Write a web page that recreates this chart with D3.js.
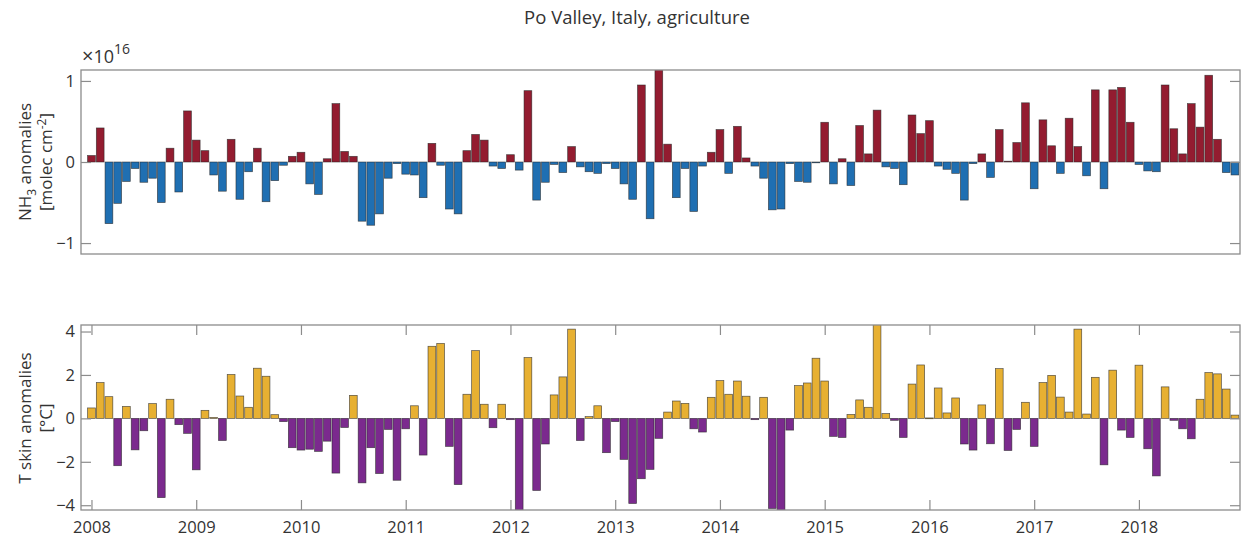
<!DOCTYPE html>
<html>
<head>
<meta charset="utf-8">
<script src="https://cdn.jsdelivr.net/npm/d3@7"></script>
<style>
  html, body { margin: 0; padding: 0; background: #fff; }
  svg { display: block; }
  text { font-family: "Open Sans", "Noto Sans", sans-serif; }
</style>
</head>
<body>
<svg id="chart" width="1242" height="537"></svg>
<script>
// ---- Data (monthly anomalies, Jan 2008 - Dec 2018) ----
const startYear = 2008;
const yearTicks = [2008, 2009, 2010, 2011, 2012, 2013, 2014, 2015, 2016, 2017, 2018];

// NH3 column anomalies, units of 1e16 molec cm^-2
const nh3 = [
  0.08, 0.42, -0.76, -0.51, -0.24, -0.08, -0.25, -0.20, -0.50, 0.17, -0.37, 0.63,
  0.27, 0.14, -0.16, -0.36, 0.28, -0.46, -0.12, 0.17, -0.49, -0.23, -0.04, 0.07,
  0.12, -0.27, -0.40, 0.04, 0.72, 0.13, 0.07, -0.73, -0.78, -0.64, -0.20, -0.02,
  -0.15, -0.16, -0.44, 0.23, -0.04, -0.58, -0.64, 0.14, 0.34, 0.27, -0.05, -0.08,
  0.09, -0.10, 0.88, -0.47, -0.25, -0.03, -0.13, 0.19, -0.06, -0.12, -0.14, -0.02,
  -0.08, -0.27, -0.46, 0.95, -0.70, 1.20, 0.22, -0.44, -0.08, -0.61, -0.05, 0.12,
  0.40, -0.14, 0.44, 0.05, -0.05, -0.20, -0.59, -0.58, -0.02, -0.24, -0.25, -0.005,
  0.49, -0.27, 0.04, -0.29, 0.45, 0.10, 0.64, -0.06, -0.08, -0.28, 0.58, 0.35,
  0.51, -0.05, -0.09, -0.14, -0.47, -0.02, 0.10, -0.19, 0.40, 0.01, 0.24, 0.73,
  -0.33, 0.52, 0.20, -0.14, 0.54, 0.19, -0.17, 0.89, -0.33, 0.89, 0.92, 0.49,
  -0.03, -0.11, -0.12, 0.95, 0.41, 0.10, 0.72, 0.43, 1.07, 0.28, -0.13, -0.16
];

// Skin temperature anomalies, degrees C
const tskin = [
  0.48, 1.65, 1.00, -2.18, 0.55, -1.45, -0.57, 0.68, -3.65, 0.88, -0.29, -0.69,
  -2.37, 0.37, 0.04, -1.02, 2.02, 1.03, 0.51, 2.31, 1.94, 0.17, -0.15, -1.35,
  -1.46, -1.42, -1.52, -1.05, -2.52, -0.42, 1.06, -2.97, -1.35, -2.54, -0.51, -2.85,
  -0.48, 0.58, -1.69, 3.32, 3.45, -1.29, -3.05, 1.11, 3.12, 0.65, -0.43, 0.65,
  -0.06, -4.45, 2.80, -3.32, -1.18, 1.08, 1.91, 4.11, -1.02, 0.08, 0.58, -1.58,
  -0.15, -1.89, -3.92, -2.78, -2.35, -0.92, 0.29, 0.80, 0.69, -0.48, -0.63, 0.97,
  1.74, 1.11, 1.72, 1.02, -0.06, 0.97, -4.15, -4.40, -0.54, 1.51, 1.63, 2.77,
  1.72, -0.83, -0.88, 0.18, 0.85, 0.51, 4.45, 0.22, -0.09, -0.88, 1.58, 2.46,
  0.02, 1.40, 0.25, 0.94, -1.18, -1.46, 0.62, -1.17, 2.29, -1.48, -0.51, 0.74,
  -1.29, 1.65, 1.98, 0.98, 0.29, 4.11, 0.20, 1.89, -2.14, 2.22, -0.54, -0.88,
  2.45, -1.40, -2.65, 1.45, -0.09, -0.48, -0.94, 0.88, 2.11, 2.05, 1.35, 0.15
];

const nh3Ticks = [-1, 0, 1];
const tskinTicks = [-4, -2, 0, 2, 4];

// ---- Layout ----
const svg = d3.select("#chart");
const left = 81, right = 1240;
const axisColor = "#8c8c8c";
const textColor = "#333333";
const tickFont = 16.5;

const x = d3.scaleLinear().domain([2007.9, 2018.965]).range([left, right]);
const dateOf = i => startYear + i / 12;
const barW = (x(startYear + 1 / 12) - x(startYear)) * 0.89;

svg.append("text")
  .attr("x", 637).attr("y", 24)
  .attr("text-anchor", "middle")
  .attr("font-size", 18.5).attr("fill", textColor)
  .text("Po Valley, Italy, agriculture");

function styleAxis(a) {
  a.select(".domain").remove();
  a.selectAll(".tick line").attr("stroke", axisColor).attr("stroke-width", 1.2);
  a.selectAll(".tick text").attr("fill", textColor).attr("font-size", tickFont)
    .style("font-family", '"Open Sans", sans-serif');
}

function panel(opts) {
  const { top, bottom, domain, values, ticks, posColor, negColor, id, showX } = opts;
  const y = d3.scaleLinear().domain(domain).range([bottom, top]);
  const g = svg.append("g");

  g.append("clipPath").attr("id", id)
    .append("rect").attr("x", left).attr("y", top)
    .attr("width", right - left).attr("height", bottom - top);

  g.append("g").attr("clip-path", `url(#${id})`)
    .selectAll("rect").data(values).join("rect")
    .attr("x", (d, i) => x(dateOf(i)) - barW / 2)
    .attr("width", barW)
    .attr("y", d => y(Math.max(0, d)))
    .attr("height", d => Math.max(0.8, Math.abs(y(d) - y(0))))
    .attr("fill", d => d >= 0 ? posColor : negColor)
    .attr("stroke", "#262626")
    .attr("stroke-opacity", 0.75)
    .attr("stroke-width", 0.7);

  const tickLen = 10;
  const yl = g.append("g").attr("transform", `translate(${left},0)`)
    .call(d3.axisLeft(y).tickValues(ticks).tickSize(-tickLen).tickPadding(6).tickFormat(d3.format("d")));
  const yr = g.append("g").attr("transform", `translate(${right},0)`)
    .call(d3.axisRight(y).tickValues(ticks).tickSize(-tickLen).tickFormat(""));
  styleAxis(yl); styleAxis(yr);

  if (showX) {
    const xb = g.append("g").attr("transform", `translate(0,${bottom})`)
      .call(d3.axisBottom(x).tickValues(yearTicks).tickSize(-tickLen).tickPadding(11).tickFormat(d3.format("d")));
    const xt = g.append("g").attr("transform", `translate(0,${top})`)
      .call(d3.axisTop(x).tickValues(yearTicks).tickSize(-tickLen).tickFormat(""));
    styleAxis(xb); styleAxis(xt);
  }

  g.append("rect").attr("x", left).attr("y", top)
    .attr("width", right - left).attr("height", bottom - top)
    .attr("fill", "none").attr("stroke", axisColor).attr("stroke-width", 1.3);
  return y;
}

panel({ top: 70, bottom: 254, domain: [-1.135, 1.135], values: nh3, ticks: nh3Ticks,
  posColor: "#931c30", negColor: "#1f6fb2", id: "clipTop", showX: false });
panel({ top: 325, bottom: 510, domain: [-4.22, 4.3], values: tskin, ticks: tskinTicks,
  posColor: "#e7b032", negColor: "#7b2a8e", id: "clipBot", showX: true });

// exponent label
const ex = svg.append("text").attr("x", 82).attr("y", 63)
  .attr("font-size", 18).attr("fill", textColor);
ex.append("tspan").attr("font-size", 20).text("\u00d7");
ex.append("tspan").text("10");
ex.append("tspan").attr("dy", -9).attr("font-size", 14).text("16");

// y labels
const yl1 = svg.append("text").attr("transform", "translate(31,162) rotate(-90)")
  .attr("text-anchor", "middle").attr("font-size", 17).attr("fill", textColor);
yl1.append("tspan").text("NH");
yl1.append("tspan").attr("dy", 5).attr("font-size", 12).text("3");
yl1.append("tspan").attr("dy", -5).text(" anomalies");

const yl2 = svg.append("text").attr("transform", "translate(52,162) rotate(-90)")
  .attr("text-anchor", "middle").attr("font-size", 17).attr("fill", textColor);
yl2.append("tspan").text("[molec cm");
yl2.append("tspan").attr("dy", -6).attr("font-size", 12).text("-2");
yl2.append("tspan").attr("dy", 6).text("]");

svg.append("text").attr("transform", "translate(31,418) rotate(-90)")
  .attr("text-anchor", "middle").attr("font-size", 17).attr("fill", textColor)
  .text("T skin anomalies");
svg.append("text").attr("transform", "translate(52,418) rotate(-90)")
  .attr("text-anchor", "middle").attr("font-size", 17).attr("fill", textColor)
  .text("[\u00b0C]");
</script>
</body>
</html>
